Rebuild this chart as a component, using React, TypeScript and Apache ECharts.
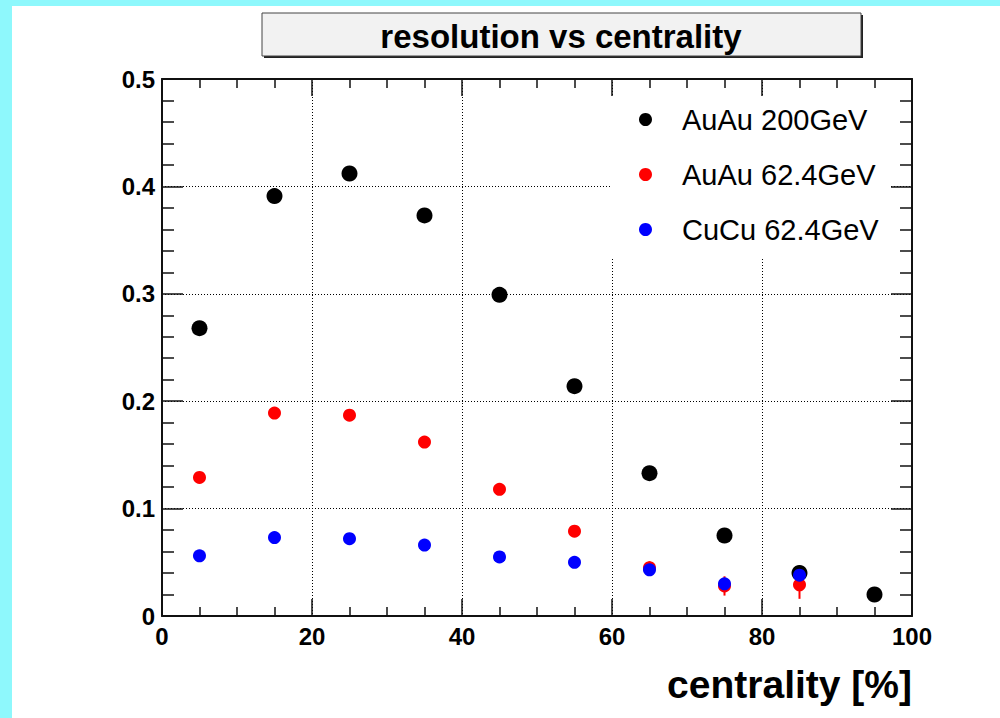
import React, { useEffect, useRef } from "react";
import * as echarts from "echarts";

// ---- data ----
const centrality = [5, 15, 25, 35, 45, 55, 65, 75, 85, 95];
const seriesNames = ["AuAu 200GeV", "AuAu 62.4GeV", "CuCu 62.4GeV"];
const seriesColors = ["#000000", "#ff0000", "#0000ff"];
const auau200 = [0.268, 0.391, 0.412, 0.373, 0.299, 0.214, 0.133, 0.075, 0.04, 0.02];
const auau200Err = [0, 0, 0, 0, 0, 0, 0, 0, 0.007, 0.006];
const auau62 = [0.129, 0.189, 0.187, 0.162, 0.118, 0.079, 0.045, 0.028, 0.029];
const auau62Err = [0, 0, 0, 0, 0, 0, 0.006, 0.009, 0.013];
const cucu62 = [0.056, 0.073, 0.072, 0.066, 0.055, 0.05, 0.043, 0.03, 0.038];
const cucu62Err = [0, 0, 0, 0, 0, 0, 0, 0, 0];
const symbolSizes = [16, 13, 13];
const titleText = "resolution vs centrality";
const xTitle = "centrality [%]";

const FONT = "'Liberation Sans', Arial, Helvetica, sans-serif";

export default function App() {
  const ref = useRef<HTMLDivElement>(null);
  useEffect(() => {
    document.body.style.margin = "0";
    const chart = echarts.init(ref.current!, null, { renderer: "svg" });
    const values = [auau200, auau62, cucu62];
    const errs = [auau200Err, auau62Err, cucu62Err];

    const series: any[] = [];
    values.forEach((vals, k) => {
      const color = seriesColors[k];
      series.push({
        type: "custom",
        name: seriesNames[k] + " err",
        z: 2,
        data: vals
          .map((v, i) => [centrality[i], v, errs[k][i]])
          .filter((d) => d[2] > 0),
        renderItem: (_p: any, api: any) => {
          const x = api.value(0);
          const y = api.value(1);
          const e = api.value(2);
          const a = api.coord([x, y - e]);
          const b = api.coord([x, y + e]);
          return {
            type: "line",
            shape: { x1: a[0], y1: a[1], x2: b[0], y2: b[1] },
            style: { stroke: color, lineWidth: 2 },
          };
        },
      });
      series.push({
        type: "scatter",
        name: seriesNames[k],
        symbol: "circle",
        symbolSize: symbolSizes[k],
        itemStyle: { color, opacity: 1 },
        z: 2,
        data: vals.map((v, i) => [centrality[i], v]),
      });
    });

    const tickLabel = {
      fontSize: 24,
      fontWeight: "bold",
      color: "#000",
      fontFamily: FONT,
      showMinLabel: true,
      showMaxLabel: true,
    };
    const axisLine = { show: true, onZero: false, lineStyle: { color: "#111", width: 2 } };
    const dotted = { show: true, lineStyle: { color: "#000", width: 1, type: [1, 2] } };

    const xBase = {
      type: "value",
      min: 0,
      max: 100,
      interval: 20,
      axisLine,
      axisTick: { show: true, inside: true, length: 17, lineStyle: { color: "#111", width: 1.5 } },
      minorTick: { show: true, splitNumber: 4, length: 9, lineStyle: { color: "#111", width: 1.5 } },
    };
    const yBase = {
      type: "value",
      min: 0,
      max: 0.5,
      interval: 0.1,
      axisLine,
      axisTick: { show: true, inside: true, length: 21, lineStyle: { color: "#111", width: 1.5 } },
      minorTick: { show: true, splitNumber: 5, length: 12, lineStyle: { color: "#111", width: 1.5 } },
    };

    const option: any = {
      animation: false,
      backgroundColor: "#ffffff",
      grid: { left: 162, right: 88, top: 79, bottom: 102, containLabel: false, outerBoundsMode: "none" },
      xAxis: [
        { ...xBase, position: "bottom", axisLabel: { ...tickLabel, margin: 8 }, splitLine: dotted },
        { ...xBase, position: "top", axisLabel: { show: false }, splitLine: { show: false } },
      ],
      yAxis: [
        { ...yBase, position: "left", axisLabel: { ...tickLabel, margin: 7 }, splitLine: dotted },
        { ...yBase, position: "right", axisLabel: { show: false }, splitLine: { show: false } },
      ],
      legend: {
        orient: "vertical",
        left: 639,
        top: 105,
        padding: 0,
        itemWidth: 63,
        itemHeight: 13,
        itemGap: 26,
        icon: "circle",
        data: seriesNames,
        textStyle: { fontSize: 29, color: "#000", fontFamily: FONT },
        selectedMode: false,
      },
      graphic: [
        { type: "rect", z: 0, shape: { x: 0, y: 0, width: 12, height: 718 }, style: { fill: "#8ef8fc" } },
        { type: "rect", z: 0, shape: { x: 0, y: 0, width: 1000, height: 6 }, style: { fill: "#8ef8fc" } },
        { type: "rect", z: 1, shape: { x: 611, y: 97, width: 278, height: 161 }, style: { fill: "#ffffff" } },
        { type: "rect", z: 5, shape: { x: 264, y: 15, width: 599, height: 43 }, style: { fill: "#222" } },
        {
          type: "rect",
          z: 6,
          shape: { x: 262, y: 13, width: 599, height: 43 },
          style: { fill: "#f2f2f2", stroke: "#444", lineWidth: 1 },
        },
        {
          type: "text",
          z: 7,
          x: 561,
          y: 36,
          style: {
            text: titleText,
            font: `bold 33px ${FONT}`,
            fill: "#000",
            align: "center",
            verticalAlign: "middle",
          },
        },
        {
          type: "text",
          z: 7,
          x: 912,
          y: 684,
          style: {
            text: xTitle,
            font: `bold 39px ${FONT}`,
            fill: "#000",
            align: "right",
            verticalAlign: "middle",
          },
        },
      ],
      series,
    };
    chart.setOption(option);
    return () => chart.dispose();
  }, []);
  return <div ref={ref} style={{ width: 1000, height: 718 }} />;
}
